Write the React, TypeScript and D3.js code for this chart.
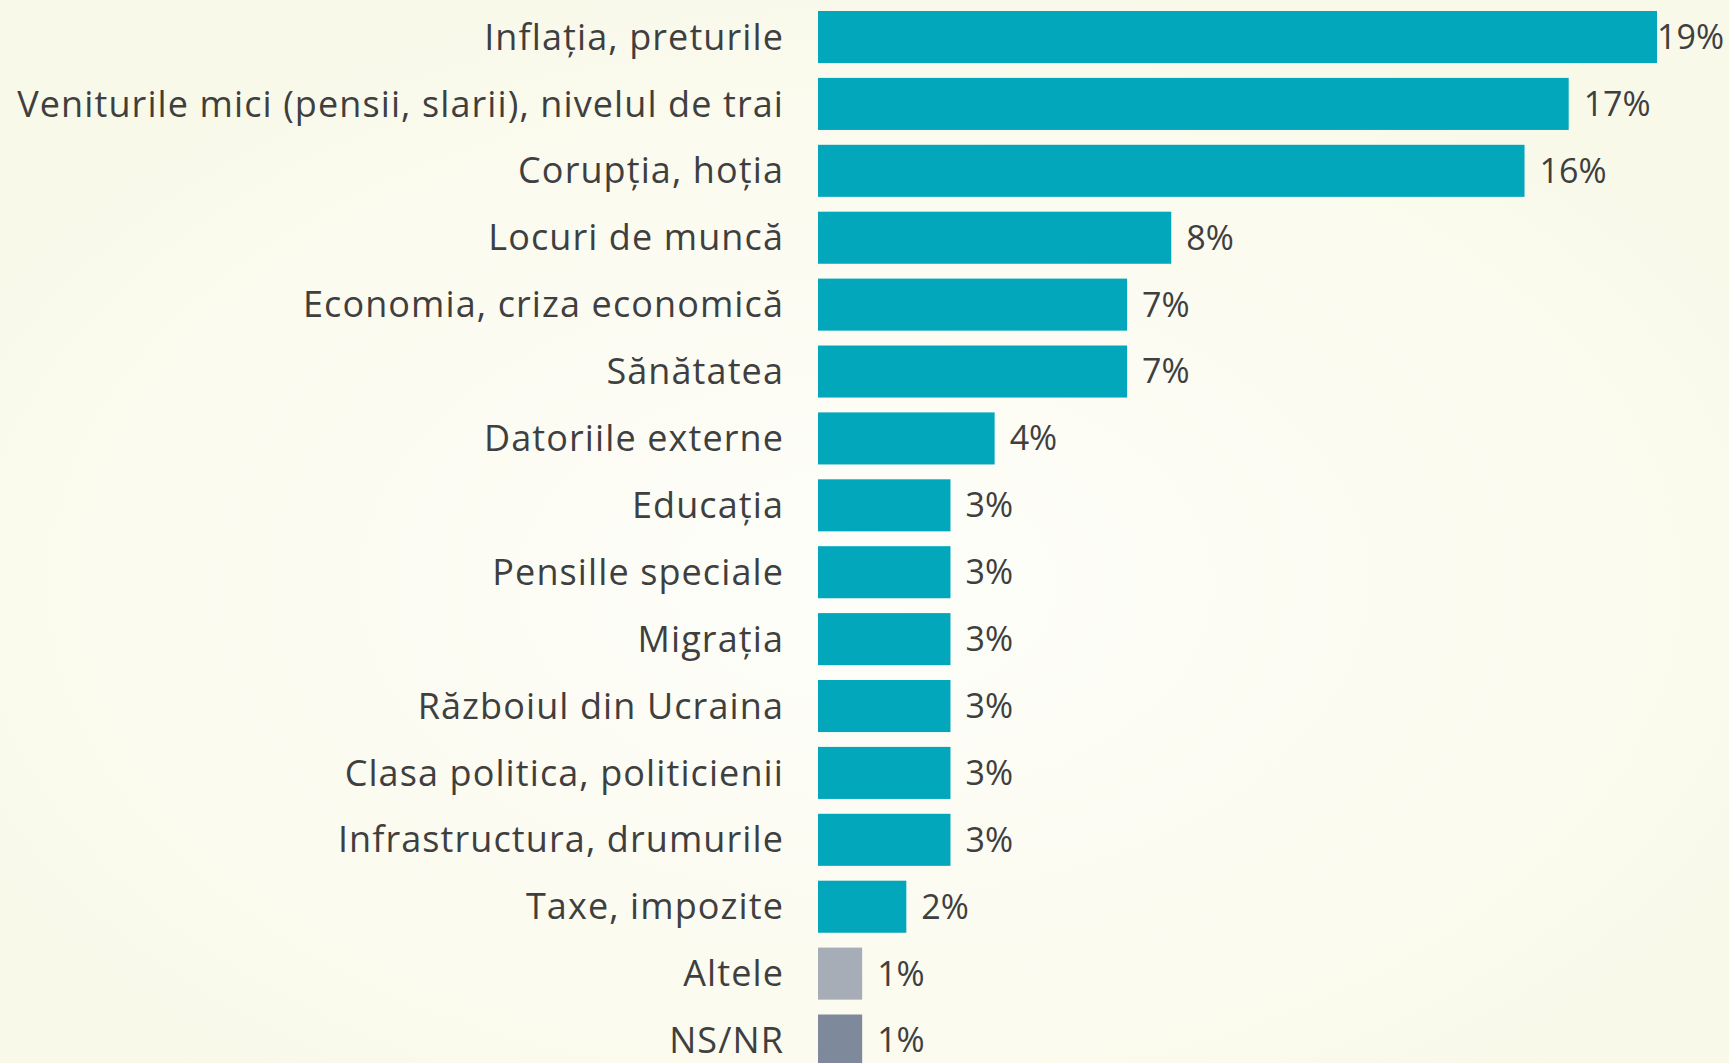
import React, { useEffect, useRef } from 'react';
import * as d3 from 'd3';

const categories = [
  'Inflația, preturile',
  'Veniturile mici (pensii, slarii), nivelul de trai',
  'Corupția, hoția',
  'Locuri de muncă',
  'Economia, criza economică',
  'Sănătatea',
  'Datoriile externe',
  'Educația',
  'Pensille speciale',
  'Migrația',
  'Războiul din Ucraina',
  'Clasa politica, politicienii',
  'Infrastructura, drumurile',
  'Taxe, impozite',
  'Altele',
  'NS/NR',
];
const values = [19, 17, 16, 8, 7, 7, 4, 3, 3, 3, 3, 3, 3, 2, 1, 1];
const barColors = [
  '#02a7bb', '#02a7bb', '#02a7bb', '#02a7bb', '#02a7bb', '#02a7bb', '#02a7bb', '#02a7bb',
  '#02a7bb', '#02a7bb', '#02a7bb', '#02a7bb', '#02a7bb', '#02a7bb', '#a6adb6', '#7e8a9c',
];

export default function App() {
  const ref = useRef<SVGSVGElement>(null);

  useEffect(() => {
    if (!ref.current) return;
    const width = 1729;
    const height = 1063;
    const svg = d3.select(ref.current);
    svg.selectAll('*').remove();

    const defs = svg.append('defs');
    const grad = defs.append('radialGradient')
      .attr('id', 'bg')
      .attr('cx', '50%').attr('cy', '55%').attr('r', '60%');
    grad.append('stop').attr('offset', '0%').attr('stop-color', '#fefefa');
    grad.append('stop').attr('offset', '100%').attr('stop-color', '#f9f9ea');
    svg.append('rect').attr('width', width).attr('height', height).attr('fill', 'url(#bg)');

    const data = categories.map((c, i) => ({ cat: c, value: values[i], color: barColors[i] }));

    const x0 = 818;
    const x = d3.scaleLinear().domain([0, 19]).range([x0, 1657]);
    const step = 66.9;
    const y = d3.scaleBand<string>()
      .domain(categories)
      .range([11 - step * 0.111, 11 - step * 0.111 + step * categories.length])
      .paddingInner(0.222)
      .paddingOuter(0.111);

    const font = '"Open Sans", sans-serif';

    const row = svg.selectAll('g.row').data(data).join('g').attr('class', 'row');

    row.append('rect')
      .attr('x', x(0))
      .attr('y', d => y(d.cat)!)
      .attr('width', d => x(d.value) - x(0))
      .attr('height', y.bandwidth())
      .attr('fill', d => d.color);

    // category labels (letter-spacing widens them toward the original's wide face)
    row.append('text')
      .attr('x', 784)
      .attr('y', d => y(d.cat)! + y.bandwidth() / 2)
      .attr('dy', '0.35em')
      .attr('text-anchor', 'end')
      .attr('font-family', font)
      .attr('font-size', 36)
      .attr('letter-spacing', 1.1)
      .attr('fill', '#3f3f3f')
      .text(d => d.cat);

    row.append('text')
      .attr('y', d => y(d.cat)! + y.bandwidth() / 2)
      .attr('dy', '0.35em')
      .attr('font-family', font)
      .attr('font-size', 34)
      .attr('fill', '#3f3f3f')
      .text(d => `${d.value}%`)
      .each(function (d) {
        const t = d3.select(this);
        const w = (this as SVGTextElement).getComputedTextLength();
        const px = x(d.value) + 15;
        if (px + w > width - 5) {
          t.attr('x', width - 5).attr('text-anchor', 'end');
        } else {
          t.attr('x', px);
        }
      });
  }, []);

  return (
    <svg
      ref={ref}
      width={1729}
      height={1063}
      style={{ position: 'absolute', left: 0, top: 0, display: 'block' }}
    />
  );
}
